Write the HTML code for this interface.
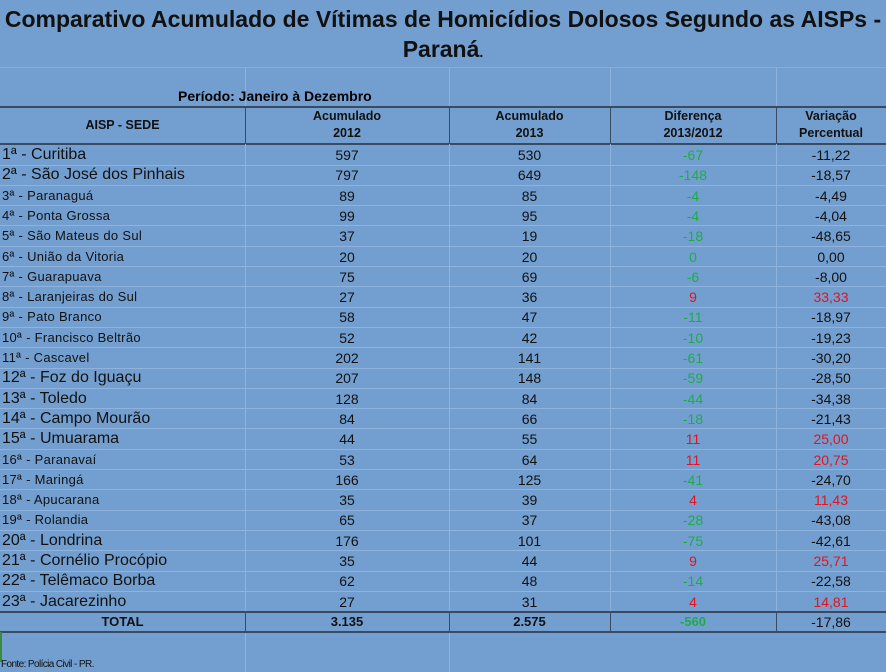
<!DOCTYPE html>
<html><head><meta charset="utf-8"><style>
body{margin:0;width:886px;height:672px;background:#739fd0;overflow:hidden;font-family:"Liberation Sans",sans-serif;position:relative}
.t{position:absolute;left:0;width:886px;text-align:center;font-weight:bold;font-size:23px;color:#111}
.vl{position:absolute;width:1px;background:#8fb3dd}
.hl{position:absolute;left:0;width:886px;height:1px;background:#8fb3dd}
.dk{position:absolute;left:0;width:886px;height:2px;background:#3a4a60}
.dv{position:absolute;width:1px;background:#3a4a60}
.r{position:absolute;left:0;width:886px;height:20px;line-height:20px;font-size:14px;color:#111}
.r span{position:absolute;text-align:center}
.a{left:0;width:245px}.b{left:245px;width:204px}.c{left:449px;width:161px}.d{left:610px;width:166px}.e{left:776px;width:110px}
.r .n{text-align:left;left:2px;font-size:13px;letter-spacing:0.3px}
.r .n.big{font-size:16px;letter-spacing:0}
.g{color:#1faa4a}.red{color:#e0141e}
.h{position:absolute;font-weight:bold;font-size:12.5px;text-align:center;line-height:17px;color:#111}
</style></head><body>
<div class="t" style="top:6px">Comparativo Acumulado de Vítimas de Homicídios Dolosos Segundo as AISPs -</div>
<div class="t" style="top:36px">Paraná<span style="font-size:14px">.</span></div>
<div class="hl" style="top:67px;background:#86acd8"></div>
<div class="vl" style="left:245px;top:67px;height:40px"></div>
<div class="vl" style="left:449px;top:67px;height:40px"></div>
<div class="vl" style="left:610px;top:67px;height:40px"></div>
<div class="vl" style="left:776px;top:67px;height:40px"></div>
<div style="position:absolute;left:178px;top:88px;font-weight:bold;font-size:14px">Período: Janeiro à Dezembro</div>
<div class="dk" style="top:106px"></div>
<div class="dk" style="top:143px"></div>
<div class="dv" style="left:245px;top:107px;height:37px"></div>
<div class="dv" style="left:449px;top:107px;height:37px"></div>
<div class="dv" style="left:610px;top:107px;height:37px"></div>
<div class="dv" style="left:776px;top:107px;height:37px"></div>
<div class="h" style="left:0;width:245px;top:117px">AISP - SEDE</div>
<div class="h" style="left:245px;width:204px;top:108px">Acumulado<br>2012</div>
<div class="h" style="left:449px;width:161px;top:108px">Acumulado<br>2013</div>
<div class="h" style="left:610px;width:166px;top:108px">Diferença<br>2013/2012</div>
<div class="h" style="left:776px;width:110px;top:108px">Variação<br>Percentual</div>
<div id="rows"></div>
<div class="dk" style="top:611px"></div>
<div class="dk" style="top:631px"></div>
<div class="dv" style="left:245px;top:612px;height:20px"></div>
<div class="dv" style="left:449px;top:612px;height:20px"></div>
<div class="dv" style="left:610px;top:612px;height:20px"></div>
<div class="dv" style="left:776px;top:612px;height:20px"></div>
<div class="r" style="top:612px;font-weight:bold;font-size:13px"><span class="a">TOTAL</span><span class="b">3.135</span><span class="c">2.575</span><span class="d g">-560</span><span class="e" style="font-weight:normal;font-size:14px">-17,86</span></div>
<div class="vl" style="left:245px;top:633px;height:39px"></div>
<div class="vl" style="left:449px;top:633px;height:39px"></div>
<div style="position:absolute;left:0;top:632px;width:2px;height:30px;background:#3c8a3c"></div>
<div style="position:absolute;left:1px;top:659px;font-size:10px;letter-spacing:-0.6px;color:#111">Fonte: Polícia Civil - PR.</div>
<script>
var d=[["1ª - Curitiba",597,530,"-67","-11,22",1],["2ª - São José dos Pinhais",797,649,"-148","-18,57",1],["3ª - Paranaguá",89,85,"-4","-4,49",0],["4ª - Ponta Grossa",99,95,"-4","-4,04",0],["5ª - São Mateus do Sul",37,19,"-18","-48,65",0],["6ª - União da Vitoria",20,20,"0","0,00",0],["7ª - Guarapuava",75,69,"-6","-8,00",0],["8ª - Laranjeiras do Sul",27,36,"9","33,33",0],["9ª - Pato Branco",58,47,"-11","-18,97",0],["10ª - Francisco Beltrão",52,42,"-10","-19,23",0],["11ª - Cascavel",202,141,"-61","-30,20",0],["12ª - Foz do Iguaçu",207,148,"-59","-28,50",1],["13ª - Toledo",128,84,"-44","-34,38",1],["14ª - Campo Mourão",84,66,"-18","-21,43",1],["15ª - Umuarama",44,55,"11","25,00",1],["16ª - Paranavaí",53,64,"11","20,75",0],["17ª - Maringá",166,125,"-41","-24,70",0],["18ª - Apucarana",35,39,"4","11,43",0],["19ª - Rolandia",65,37,"-28","-43,08",0],["20ª - Londrina",176,101,"-75","-42,61",1],["21ª - Cornélio Procópio",35,44,"9","25,71",1],["22ª - Telêmaco Borba",62,48,"-14","-22,58",1],["23ª - Jacarezinho",27,31,"4","14,81",1]];
var h="";
for(var i=0;i<23;i++){var y=145+i*20.3;var r=d[i];var pos=r[3].charAt(0)!="-"&&r[3]!="0";
h+='<div class="hl" style="top:'+Math.round(y+19.5)+'px"></div>';
h+='<div class="r" style="top:'+Math.round(y)+'px"><span class="n'+(r[5]?' big':'')+'">'+r[0]+'</span><span class="b">'+r[1]+'</span><span class="c">'+r[2]+'</span><span class="d '+(pos?'red':'g')+'">'+r[3]+'</span><span class="e'+(pos?' red':'')+'">'+r[4]+'</span></div>';}
h+='<div class="vl" style="left:245px;top:144px;height:468px"></div><div class="vl" style="left:449px;top:144px;height:468px"></div><div class="vl" style="left:610px;top:144px;height:468px"></div><div class="vl" style="left:776px;top:144px;height:468px"></div>';
document.getElementById("rows").innerHTML=h;
</script>
</body></html>
